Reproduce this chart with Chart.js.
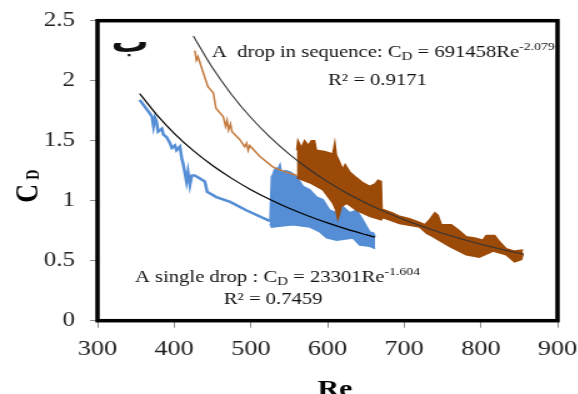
<!DOCTYPE html>
<html>
<head>
<meta charset="utf-8">
<script src="https://cdn.jsdelivr.net/npm/chart.js@4.4.0/dist/chart.umd.min.js"></script>
<style>
  html, body { margin: 0; padding: 0; background: #fff; overflow: hidden; }
  #wrap { width: 578px; height: 394px; overflow: hidden; }
  /* the original figure is stretched sideways, so the canvas is too */
  #chart { display: block; transform: scaleX(1.25); transform-origin: 0 0; }
</style>
</head>
<body>
<div id="wrap"><canvas id="chart" width="462" height="394"></canvas></div>
<script>
// tick labels
const reTicks = [300, 400, 500, 600, 700, 800, 900];
const cdTicks = [0, 0.5, 1, 1.5, 2, 2.5];

// single drop - measured curve (thin part)
const singleRe = [355, 368, 371, 373, 375, 377, 379, 384, 386, 390, 394.5, 397, 401, 403, 407.5, 410, 412, 414, 416, 418, 420.5, 423, 427, 440, 443, 455, 473, 494, 525];
const singleCd = [1.84, 1.73, 1.70, 1.62, 1.69, 1.66, 1.575, 1.60, 1.55, 1.53, 1.48, 1.44, 1.46, 1.42, 1.45, 1.35, 1.30, 1.23, 1.16, 1.24, 1.13, 1.21, 1.21, 1.16, 1.075, 1.03, 0.99, 0.92, 0.83];
// single drop - noisy part, upper and lower edge
const singleTopRe = [525, 527, 529, 531, 533.5, 536, 538, 540, 545, 551, 556, 560, 568, 577, 586, 594, 603, 612, 620, 629, 638, 646, 655, 660, 662];
const singleTopCd = [0.83, 1.20, 1.22, 1.26, 1.27, 1.27, 1.30, 1.23, 1.25, 1.24, 1.22, 1.20, 1.12, 1.09, 1.03, 1.01, 0.92, 0.90, 0.95, 0.90, 0.92, 0.84, 0.74, 0.73, 0.70];
const singleBotRe = [525, 527, 540, 555, 577, 590, 599, 612, 633, 642, 655, 662];
const singleBotCd = [0.81, 0.78, 0.79, 0.80, 0.78, 0.74, 0.69, 0.67, 0.69, 0.63, 0.62, 0.60];

// drop in sequence - measured curve (thin part)
const seqRe = [427, 429, 431, 444, 451, 454.5, 464, 467, 469, 471, 473.5, 475.5, 485.5, 492, 494.5, 496.5, 498.5, 511.5, 529, 545, 560];
const seqCd = [2.25, 2.17, 2.20, 1.95, 1.90, 1.77, 1.70, 1.62, 1.67, 1.59, 1.64, 1.575, 1.51, 1.45, 1.48, 1.42, 1.46, 1.37, 1.28, 1.24, 1.21];
// drop in sequence - noisy part, upper and lower edge
const seqTopRe = [560, 561.5, 566, 570, 575, 579, 583, 585.5, 596, 607, 609.5, 611.5, 620, 623, 629, 638, 646, 655, 662, 666, 670, 671, 684, 694, 707, 720, 727, 733, 740, 744, 748.5, 761.5, 770, 781, 792, 802.5, 807, 818, 824, 833, 844, 855];
const seqTopCd = [1.42, 1.50, 1.44, 1.50, 1.46, 1.50, 1.50, 1.42, 1.41, 1.39, 1.48, 1.38, 1.26, 1.30, 1.24, 1.19, 1.15, 1.12, 1.14, 1.17, 1.16, 0.93, 0.90, 0.87, 0.85, 0.82, 0.80, 0.84, 0.90, 0.88, 0.80, 0.80, 0.76, 0.70, 0.69, 0.67, 0.71, 0.71, 0.66, 0.60, 0.58, 0.59];
const seqBotRe = [560, 577, 594, 607, 611, 613.5, 616, 618, 625, 638, 655, 670, 672, 694, 720, 729, 737.5, 759, 781, 798, 816, 833, 844, 853, 855];
const seqBotCd = [1.19, 1.15, 1.09, 0.98, 0.92, 0.85, 0.90, 0.95, 0.98, 0.92, 0.87, 0.84, 0.86, 0.81, 0.78, 0.73, 0.70, 0.62, 0.55, 0.53, 0.58, 0.55, 0.49, 0.51, 0.56];

// power-law trend lines as drawn
const fitSingleRe = [355, 380, 400, 425, 450, 475, 500, 525, 550, 575, 600, 625, 650, 662];
const fitSingleCd = [1.892, 1.696, 1.562, 1.417, 1.293, 1.186, 1.092, 1.010, 0.937, 0.873, 0.815, 0.763, 0.717, 0.696];
const fitSeqRe = [425, 450, 475, 500, 525, 550, 575, 600, 625, 650, 675, 700, 725, 750, 775, 800, 825, 856];
const fitSeqCd = [2.373, 2.107, 1.883, 1.693, 1.529, 1.388, 1.266, 1.159, 1.064, 0.981, 0.907, 0.841, 0.782, 0.729, 0.681, 0.637, 0.598, 0.553];

const BLUE = '#558ed5';
const BROWN = '#9c4a08';
const BROWN_LIGHT = '#c47a3e';
const SERIF = '"Liberation Serif", "Times New Roman", serif';

function pts(xs, ys) {
  return xs.map((x, i) => ({ x: x, y: ys[i] }));
}

function drawRuns(ctx, runs, x, y, align) {
  let total = 0;
  runs.forEach(r => { ctx.font = r.font; r.w = ctx.measureText(r.t).width; total += r.w; });
  let cx = align === 'center' ? x - total / 2 : x;
  runs.forEach(r => { ctx.font = r.font; ctx.fillText(r.t, cx, y + (r.dy || 0)); cx += r.w; });
}

const overlay = {
  id: 'overlay',
  afterDatasetsDraw(chart) {
    const ctx = chart.ctx, a = chart.chartArea;
    ctx.save();
    ctx.strokeStyle = '#000';
    ctx.lineWidth = 3.5;
    ctx.strokeRect(a.left, a.top, a.right - a.left, a.bottom - a.top);

    ctx.fillStyle = '#111';
    ctx.textAlign = 'left';
    ctx.textBaseline = 'alphabetic';
    const big = '16.5px ' + SERIF, sub = '12px ' + SERIF, sup = '11px ' + SERIF;

    drawRuns(ctx, [
      { t: 'A  drop in sequence: C', font: big },
      { t: 'D', font: sub, dy: 3 },
      { t: ' = 691458Re', font: big },
      { t: '-2.079', font: sup, dy: -7 }
    ], 169.5, 56.5, 'left');
    drawRuns(ctx, [{ t: 'R² = 0.9171', font: big }], 302, 85, 'center');

    drawRuns(ctx, [
      { t: 'A single drop : C', font: big },
      { t: 'D', font: sub, dy: 3 },
      { t: ' = 23301Re', font: big },
      { t: '-1.604', font: sup, dy: -7 }
    ], 108, 281.5, 'left');
    drawRuns(ctx, [{ t: 'R² = 0.7459', font: big }], 218.5, 303.5, 'center');

    // panel letter
    ctx.textAlign = 'center';
    ctx.font = 'bold 30px "DejaVu Sans", sans-serif';
    ctx.fillText('ب', 104, 52);

    // axis titles
    ctx.fillStyle = '#000';
    ctx.font = 'bold 24px ' + SERIF;
    ctx.fillText('Re', 268, 396);

    ctx.translate(29.5, 179);
    ctx.rotate(-Math.PI / 2);
    drawRuns(ctx, [
      { t: 'C', font: 'bold 26px ' + SERIF },
      { t: 'D', font: 'bold 14px ' + SERIF, dy: 1 }
    ], 0, 0, 'center');
    ctx.restore();
  }
};

new Chart(document.getElementById('chart'), {
  type: 'line',
  data: {
    datasets: [
      { data: pts(singleRe, singleCd), borderColor: BLUE, borderWidth: 2.5, order: 6 },
      { data: pts(singleTopRe, singleTopCd), borderColor: BLUE, borderWidth: 1.5, order: 5 },
      { data: pts(singleBotRe, singleBotCd), borderColor: BLUE, borderWidth: 1.5, backgroundColor: BLUE, fill: '-1', order: 5 },
      { data: pts(seqRe, seqCd), borderColor: BROWN_LIGHT, borderWidth: 1.5, order: 4 },
      { data: pts(seqTopRe, seqTopCd), borderColor: BROWN, borderWidth: 1.5, order: 3 },
      { data: pts(seqBotRe, seqBotCd), borderColor: BROWN, borderWidth: 1.5, backgroundColor: BROWN, fill: '-1', order: 3 },
      { data: pts(fitSingleRe, fitSingleCd), borderColor: '#000', borderWidth: 1.2, cubicInterpolationMode: 'monotone', order: 1 },
      { data: pts(fitSeqRe, fitSeqCd), borderColor: '#333', borderWidth: 1.1, cubicInterpolationMode: 'monotone', order: 1 }
    ]
  },
  options: {
    responsive: false,
    animation: false,
    devicePixelRatio: 1,
    layout: { padding: { top: 20.7, right: 16, left: 0, bottom: 0 } },
    elements: { point: { radius: 0 }, line: { tension: 0, fill: false } },
    plugins: { legend: { display: false }, tooltip: { enabled: false } },
    scales: {
      x: {
        type: 'linear', min: 300, max: 900,
        afterBuildTicks: s => { s.ticks = reTicks.map(v => ({ value: v })); },
        afterFit: s => { s.height = 73.3; s.paddingLeft = 0; s.paddingRight = 0; },
        border: { display: false },
        grid: { drawOnChartArea: false, tickLength: 7, tickColor: '#8c8c8c', lineWidth: 1 },
        ticks: { color: '#222', padding: 9, font: { family: SERIF, size: 21 }, callback: v => String(v) }
      },
      y: {
        min: 0, max: 2.5,
        afterBuildTicks: s => { s.ticks = cdTicks.map(v => ({ value: v })); },
        afterFit: s => { s.width = 78; s.paddingTop = 0; s.paddingBottom = 0; },
        border: { display: false },
        grid: { drawOnChartArea: false, tickLength: 6, tickColor: '#8c8c8c', lineWidth: 1 },
        ticks: { color: '#222', padding: 12, font: { family: SERIF, size: 20 }, callback: v => String(v) }
      }
    }
  },
  plugins: [overlay]
});
</script>
</body>
</html>
